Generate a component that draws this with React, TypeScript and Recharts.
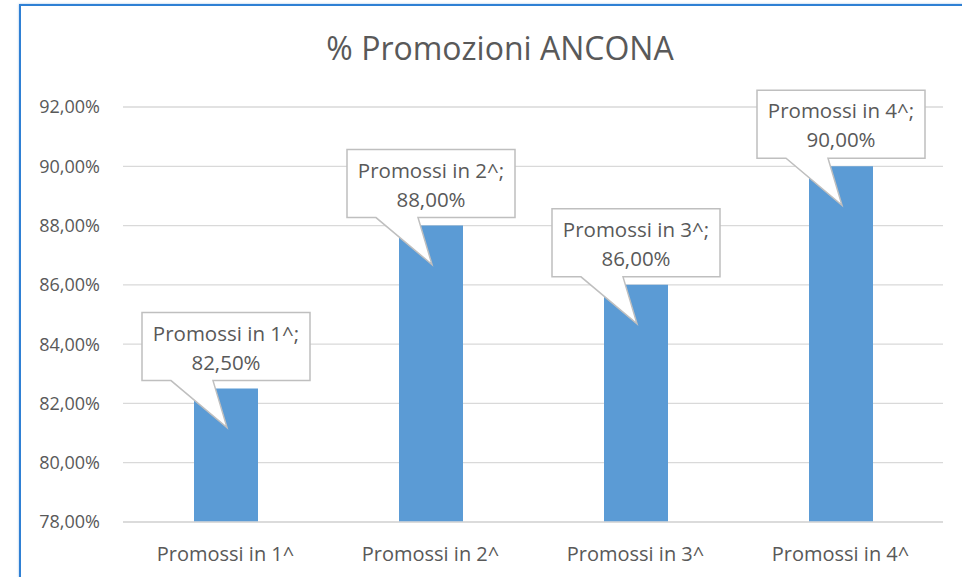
import React from 'react';
import { BarChart, Bar, XAxis, YAxis, CartesianGrid, LabelList } from 'recharts';

const categories = ['Promossi in 1^', 'Promossi in 2^', 'Promossi in 3^', 'Promossi in 4^'];
const percentages = [82.5, 88, 86, 90];
const yTicks = [78, 80, 82, 84, 86, 88, 90, 92];
const title = '% Promozioni ANCONA';

const data = categories.map((c, i) => ({ name: c, value: percentages[i] }));

const FONT = '"Open Sans", sans-serif';
const TEXT = '#595959';

const fmt = (v: number) => v.toFixed(2).replace('.', ',') + '%';

const Callout = (props: any) => {
  const { x, y, width, index, value } = props;
  const cx = Number(x) + Number(width) / 2;
  const ty = Number(y);
  const left = cx - 84;
  const right = cx + 84;
  const top = ty - 76;
  const bottom = ty - 8;
  const pts = [
    [left, top],
    [right, top],
    [right, bottom],
    [cx - 13, bottom],
    [cx + 1, ty + 39],
    [cx - 55, bottom],
    [left, bottom],
  ]
    .map((p) => p.join(','))
    .join(' ');
  return (
    <g>
      <polygon points={pts} fill="#ffffff" stroke="#bfbfbf" strokeWidth={1.5} />
      <text x={cx} y={ty - 48} textAnchor="middle" fontFamily={FONT} fontSize={20.5} fill={TEXT}>
        {categories[index] + ';'}
      </text>
      <text x={cx} y={ty - 19} textAnchor="middle" fontFamily={FONT} fontSize={20.5} fill={TEXT}>
        {fmt(Number(value))}
      </text>
    </g>
  );
};

export default function App() {
  return (
    <div
      style={{
        position: 'absolute',
        left: 0,
        top: 0,
        width: 962,
        height: 577,
        overflow: 'hidden',
        background: '#ffffff',
      }}
    >
      <div
        style={{
          position: 'absolute',
          left: 19,
          top: 4,
          width: 1100,
          height: 700,
          borderLeft: '2px solid #2f80d4',
          borderTop: '2px solid #2f80d4',
          boxShadow: '0 0 2px rgba(47,128,212,0.5)',
        }}
      />
      <div
        style={{
          position: 'absolute',
          left: 0,
          top: 26,
          width: 1000,
          textAlign: 'center',
          fontFamily: FONT,
          fontSize: 32,
          color: TEXT,
          lineHeight: '44px',
        }}
      >
        {title}
      </div>
      <div style={{ position: 'absolute', left: 0, top: 0 }}>
        <BarChart
          width={962}
          height={577}
          data={data}
          margin={{ top: 107, right: 19, bottom: 0, left: 0 }}
          barCategoryGap={0}
        >
          <CartesianGrid vertical={false} stroke="#d9d9d9" strokeWidth={1.3} />
          <XAxis
            dataKey="name"
            height={55}
            tickLine={false}
            tickSize={0}
            tickMargin={25}
            axisLine={{ stroke: '#d9d9d9', strokeWidth: 1.3 }}
            tick={{ fontFamily: FONT, fontSize: 20, fill: TEXT }}
            interval={0}
          />
          <YAxis
            width={123}
            domain={[78, 92]}
            ticks={yTicks}
            tickFormatter={(v: number) => fmt(v)}
            axisLine={false}
            tickLine={false}
            tickSize={0}
            tickMargin={23}
            tick={{ fontFamily: FONT, fontSize: 18, fill: TEXT }}
            allowDataOverflow
          />
          <Bar dataKey="value" fill="#5b9bd5" barSize={64} isAnimationActive={false}>
            <LabelList dataKey="value" content={Callout} />
          </Bar>
        </BarChart>
      </div>
    </div>
  );
}
